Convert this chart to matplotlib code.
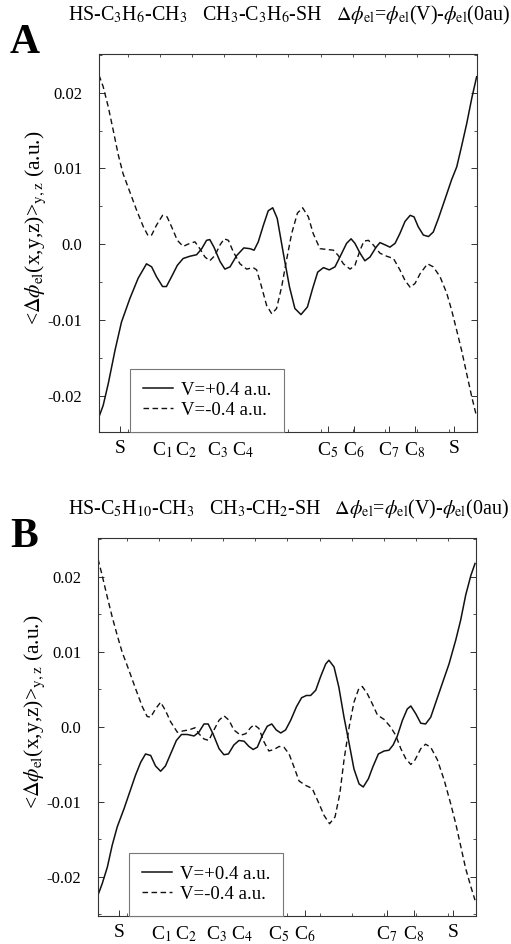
import matplotlib.pyplot as plt
from matplotlib.ticker import FixedLocator, FixedFormatter, MultipleLocator

plt.rcParams['font.family'] = ['Liberation Serif', 'DejaVu Serif']
plt.rcParams['mathtext.fontset'] = 'stix'

# position along the chain (arbitrary units), atom label positions
atoms_a = ['S', 'C$_1$', 'C$_2$', 'C$_3$', 'C$_4$', 'C$_5$', 'C$_6$', 'C$_7$', 'C$_8$', 'S']
atom_pos_a = [-0.25, 1.06, 1.81, 2.80, 3.58, 6.23, 7.04, 8.13, 8.94, 10.16]
atoms_b = ['S', 'C$_1$', 'C$_2$', 'C$_3$', 'C$_4$', 'C$_5$', 'C$_6$', 'C$_7$', 'C$_8$', 'S']
atom_pos_b = [-0.25, 1.06, 1.83, 2.80, 3.58, 4.74, 5.55, 8.10, 8.94, 10.16]

# panel A, V=+0.4 a.u.
xa_pos = [-0.90, -0.77, -0.61, -0.40, -0.20, 0.06, 0.32, 0.58, 0.74, 0.89, 1.08, 1.20, 1.36, 1.54,
          1.72, 1.93, 2.14, 2.30, 2.45, 2.55, 2.68, 2.87, 3.02, 3.18, 3.39, 3.61, 3.80, 3.93, 4.06,
          4.22, 4.37, 4.51, 4.65, 4.84, 5.03, 5.20, 5.39, 5.59, 5.75, 5.91, 6.09, 6.27, 6.45, 6.66,
          6.81, 6.95, 7.07, 7.23, 7.38, 7.54, 7.73, 7.85, 8.01, 8.16, 8.32, 8.47, 8.63, 8.79, 8.91,
          9.04, 9.20, 9.36, 9.51, 9.67, 9.88, 10.08, 10.24, 10.39, 10.55, 10.71, 10.86]
ya_pos = [-0.0228, -0.0213, -0.0184, -0.0140, -0.0103, -0.0072, -0.0045, -0.0026, -0.0030, -0.0043,
          -0.0056, -0.0056, -0.0043, -0.0028, -0.0019, -0.0016, -0.0014, -0.0006, 0.0005, 0.0006,
          -0.0004, -0.0023, -0.0033, -0.0030, -0.0015, -0.0005, -0.0006, -0.0008, 0.0003, 0.0025,
          0.0044, 0.0048, 0.0034, -0.0012, -0.0056, -0.0085, -0.0093, -0.0083, -0.0059, -0.0037,
          -0.0031, -0.0034, -0.0030, -0.0012, 0.0001, 0.0007, 0.0001, -0.0012, -0.0022, -0.0017,
          -0.0004, 0.0002, -0.0001, -0.0004, 0.0001, 0.0014, 0.0030, 0.0038, 0.0036, 0.0023,
          0.0012, 0.0010, 0.0016, 0.0034, 0.0060, 0.0085, 0.0102, 0.0129, 0.0159, 0.0193, 0.0221]

# panel A, V=-0.4 a.u.
xa_neg = [-0.90, -0.77, -0.61, -0.46, -0.30, -0.15, 0.06, 0.27, 0.48, 0.63, 0.74, 0.89, 1.08, 1.22,
          1.36, 1.54, 1.72, 1.93, 2.09, 2.24, 2.40, 2.55, 2.71, 2.87, 3.00, 3.13, 3.28, 3.49, 3.70,
          3.90, 4.01, 4.16, 4.32, 4.48, 4.63, 4.79, 4.94, 5.10, 5.28, 5.44, 5.62, 5.77, 5.98, 6.19,
          6.40, 6.55, 6.71, 6.92, 7.07, 7.23, 7.35, 7.49, 7.64, 7.85, 8.06, 8.27, 8.47, 8.63, 8.79,
          8.94, 9.10, 9.33, 9.51, 9.72, 9.93, 10.08, 10.24, 10.39, 10.55, 10.71, 10.86]
ya_neg = [0.0223, 0.0208, 0.0181, 0.0151, 0.0118, 0.0093, 0.0069, 0.0045, 0.0023, 0.0011, 0.0012,
          0.0025, 0.0038, 0.0036, 0.0023, 0.0005, -0.0003, 0.0001, 0.0003, -0.0006, -0.0017, -0.0022,
          -0.0015, -0.0001, 0.0007, 0.0005, -0.0010, -0.0026, -0.0033, -0.0031, -0.0034, -0.0056,
          -0.0081, -0.0092, -0.0085, -0.0056, -0.0021, 0.0014, 0.0041, 0.0048, 0.0036, 0.0014,
          -0.0006, -0.0007, -0.0008, -0.0015, -0.0026, -0.0033, -0.0028, -0.0008, 0.0004, 0.0005,
          -0.0001, -0.0012, -0.0016, -0.0019, -0.0034, -0.0048, -0.0057, -0.0052, -0.0039, -0.0026,
          -0.0030, -0.0043, -0.0065, -0.0087, -0.0114, -0.0140, -0.0171, -0.0202, -0.0228]

# panel B, V=+0.4 a.u.
xb_pos = [-0.90, -0.77, -0.61, -0.46, -0.30, -0.09, 0.11, 0.27, 0.43, 0.58, 0.74, 0.89, 1.05, 1.20,
          1.36, 1.54, 1.70, 1.88, 2.09, 2.24, 2.40, 2.53, 2.68, 2.87, 3.02, 3.16, 3.33, 3.49, 3.65,
          3.80, 3.93, 4.06, 4.22, 4.37, 4.51, 4.65, 4.79, 4.94, 5.10, 5.28, 5.44, 5.59, 5.72, 5.88,
          6.03, 6.19, 6.29, 6.45, 6.60, 6.76, 6.92, 7.07, 7.23, 7.36, 7.52, 7.66, 7.83, 8.01, 8.16,
          8.29, 8.42, 8.58, 8.73, 8.84, 8.99, 9.15, 9.30, 9.46, 9.62, 9.82, 10.03, 10.24, 10.39,
          10.55, 10.71, 10.84]
yb_pos = [-0.0224, -0.0209, -0.0187, -0.0158, -0.0133, -0.0109, -0.0084, -0.0064, -0.0047, -0.0036,
          -0.0038, -0.0052, -0.0059, -0.0052, -0.0036, -0.0018, -0.0010, -0.0010, -0.0012, -0.0007,
          0.0004, 0.0004, -0.0009, -0.0029, -0.0037, -0.0036, -0.0024, -0.0018, -0.0019, -0.0026,
          -0.0030, -0.0027, -0.0011, 0.0001, 0.0004, -0.0004, -0.0008, -0.0004, 0.0009, 0.0027,
          0.0039, 0.0042, 0.0042, 0.0049, 0.0067, 0.0084, 0.0089, 0.0080, 0.0053, 0.0013, -0.0022,
          -0.0056, -0.0076, -0.0080, -0.0069, -0.0053, -0.0036, -0.0032, -0.0031, -0.0024, -0.0012,
          0.0009, 0.0024, 0.0028, 0.0018, 0.0005, 0.0004, 0.0013, 0.0033, 0.0058, 0.0084, 0.0116,
          0.0142, 0.0176, 0.0202, 0.0218]

# panel B, V=-0.4 a.u.
xb_neg = [-0.90, -0.77, -0.61, -0.46, -0.30, -0.15, 0.06, 0.27, 0.48, 0.63, 0.74, 0.89, 1.05, 1.20,
          1.36, 1.57, 1.78, 1.93, 2.12, 2.24, 2.40, 2.55, 2.71, 2.87, 3.02, 3.18, 3.33, 3.54, 3.70,
          3.85, 3.96, 4.11, 4.27, 4.42, 4.58, 4.74, 4.89, 5.05, 5.20, 5.36, 5.57, 5.77, 5.98, 6.14,
          6.31, 6.48, 6.63, 6.76, 6.92, 7.07, 7.21, 7.33, 7.49, 7.64, 7.80, 8.01, 8.21, 8.37, 8.53,
          8.68, 8.84, 8.97, 9.15, 9.30, 9.46, 9.67, 9.88, 10.08, 10.24, 10.39, 10.55, 10.71, 10.84]
yb_neg = [0.0224, 0.0202, 0.0173, 0.0147, 0.0122, 0.0100, 0.0076, 0.0051, 0.0027, 0.0014, 0.0013,
          0.0024, 0.0033, 0.0022, 0.0007, -0.0007, -0.0005, -0.0004, -0.0001, -0.0009, -0.0016,
          -0.0018, -0.0004, 0.0009, 0.0015, 0.0009, -0.0004, -0.0011, -0.0009, -0.0001, 0.0003,
          -0.0002, -0.0020, -0.0032, -0.0030, -0.0026, -0.0027, -0.0036, -0.0053, -0.0072, -0.0078,
          -0.0082, -0.0102, -0.0118, -0.0129, -0.0120, -0.0089, -0.0044, 0.0000, 0.0033, 0.0050,
          0.0054, 0.0044, 0.0031, 0.0016, 0.0010, 0.0000, -0.0011, -0.0029, -0.0042, -0.0050,
          -0.0044, -0.0029, -0.0023, -0.0027, -0.0044, -0.0071, -0.0102, -0.0129, -0.0158, -0.0189,
          -0.0213, -0.0231]

grid_ticks = list(range(11))
ytick_vals = [-0.02, -0.01, 0.0, 0.01, 0.02]
ytick_text = ['-0.02', '-0.01', '0.0', '0.01', '0.02']

titles = [r'HS-C$_3$H$_6$-CH$_3$   CH$_3$-C$_3$H$_6$-SH   $\Delta\phi_{\rm el}$=$\phi_{\rm el}$(V)-$\phi_{\rm el}$(0au)',
          r'HS-C$_5$H$_{10}$-CH$_3$   CH$_3$-CH$_2$-SH   $\Delta\phi_{\rm el}$=$\phi_{\rm el}$(V)-$\phi_{\rm el}$(0au)']

fig = plt.figure(figsize=(5.11, 9.44), dpi=100)
ax_a = fig.add_axes([0.1937, 0.5424, 0.7397, 0.4004])
ax_b = fig.add_axes([0.1918, 0.0297, 0.7397, 0.4004])

panels = [
    (ax_a, xa_pos, ya_pos, xa_neg, ya_neg, atoms_a, atom_pos_a, (-0.0248, 0.0251)),
    (ax_b, xb_pos, yb_pos, xb_neg, yb_neg, atoms_b, atom_pos_b, (-0.0252, 0.0252)),
]

for ax, xp, yp, xn, yn, labs, apos, ylim in panels:
    ax.plot(xp, yp, color='#111111', lw=1.1, label='V=+0.4 a.u.')
    ax.plot(xn, yn, color='#111111', lw=1.0, dashes=(4, 2.5), label='V=-0.4 a.u.')
    ax.set_xlim(-0.9, 10.87)
    ax.set_ylim(*ylim)

    ax.xaxis.set_major_locator(FixedLocator(apos))
    ax.xaxis.set_major_formatter(FixedFormatter(labs))
    ax.xaxis.set_minor_locator(FixedLocator(grid_ticks))
    ax.tick_params(axis='x', which='major', direction='in', length=4, width=0.7,
                   top=False, bottom=True, labelsize=14, pad=6, color='#333333')
    ax.tick_params(axis='x', which='minor', direction='in', length=2, width=0.6,
                   top=True, bottom=True, color='#333333')

    ax.yaxis.set_major_locator(FixedLocator(ytick_vals))
    ax.yaxis.set_major_formatter(FixedFormatter(ytick_text))
    ax.yaxis.set_minor_locator(MultipleLocator(0.005))
    ax.tick_params(axis='y', which='major', direction='in', length=4, width=0.7,
                   left=True, right=True, labelsize=12, pad=12, color='#333333')
    ax.tick_params(axis='y', which='minor', direction='in', length=2, width=0.6,
                   left=True, right=True, color='#333333')

    for sp in ax.spines.values():
        sp.set_color('#333333')
        sp.set_linewidth(0.8)

    ax.set_ylabel(r'<$\Delta\phi_{\rm el}$(x,y,z)>$_{\rm y,z}$ (a.u.)', fontsize=15.5)
    ax.yaxis.set_label_coords(-0.135, 0.54)

    leg = ax.legend(loc='lower left', bbox_to_anchor=(0.082, 0.0), borderaxespad=0,
                    fontsize=13.5, handlelength=1.6, handletextpad=0.4, borderpad=0.7,
                    labelspacing=0.15, fancybox=False, framealpha=1, edgecolor='#777777')
    leg.get_frame().set_linewidth(0.8)

fig.text(68 / 511, 1 - 20 / 944, titles[0], fontsize=14.4, ha='left', va='baseline')
fig.text(68 / 511, 1 - 514 / 944, titles[1], fontsize=14.4, ha='left', va='baseline')
fig.text(10 / 511, 1 - 53 / 944, 'A', fontsize=30, fontweight='bold', ha='left', va='baseline')
fig.text(10 / 511, 1 - 547 / 944, 'B', fontsize=30, fontweight='bold', ha='left', va='baseline')

fig.savefig('out.png', dpi=100)
